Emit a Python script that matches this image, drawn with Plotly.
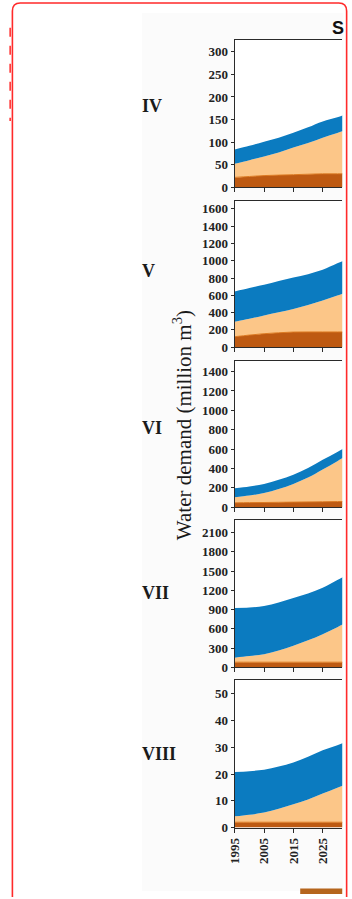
import plotly.graph_objects as go

W, H = 352, 899

# ---------------- data ----------------
years = [1995, 2000, 2005, 2010, 2015, 2020, 2025, 2030, 2035]
x_tick_vals = [1995, 2005, 2015, 2025]
x_tick_text = ["1995", "2005", "2015", "2025"]

region_labels = ["IV", "V", "VI", "VII", "VIII"]

# bottom (dark brown), middle (light orange), top (blue) layers, million m3
iv_brown = [22, 24, 26, 27, 28, 29, 30, 30, 30]
iv_peach = [30, 36, 42, 50, 60, 69, 80, 90, 102]
iv_blue = [32, 32, 33, 33, 33, 35, 36, 35, 36]

v_brown = [121, 140, 156, 167, 175, 176, 176, 176, 176]
v_peach = [172, 188, 210, 236, 268, 312, 364, 422, 484]
v_blue = [352, 357, 356, 362, 363, 357, 355, 372, 380]

vi_brown = [45, 47, 48, 50, 52, 54, 56, 58, 60]
vi_peach = [57, 73, 97, 138, 188, 251, 334, 417, 505]
vi_blue = [93, 93, 95, 95, 95, 100, 100, 95, 95]

vii_brown = [80, 80, 80, 80, 80, 80, 80, 80, 80]
vii_peach = [70, 95, 125, 180, 255, 340, 435, 545, 660]
vii_blue = [775, 755, 750, 750, 745, 730, 725, 735, 740]

viii_brown = [2.0, 2.0, 2.0, 2.0, 2.0, 2.0, 2.0, 2.0, 2.0]
viii_peach = [2.2, 2.8, 3.6, 5.0, 6.7, 8.5, 10.7, 12.9, 15.0]
viii_blue = [16.6, 16.3, 16.0, 15.8, 15.6, 16.0, 16.2, 15.9, 16.0]

iv_ticks = [0, 50, 100, 150, 200, 250, 300]
v_ticks = [0, 200, 400, 600, 800, 1000, 1200, 1400, 1600]
vi_ticks = [0, 200, 400, 600, 800, 1000, 1200, 1400]
vii_ticks = [0, 300, 600, 900, 1200, 1500, 1800, 2100]
viii_ticks = [0, 10, 20, 30, 40, 50]

y_title = "Water demand (million m<sup>3</sup>)"
top_text = "S"

# ---------------- styling ----------------
C_BROWN = "#BE5A12"
C_BROWN_EDGE = "#DC7A22"
C_PEACH = "#FCC688"
C_BLUE = "#0B7BC0"
AX = "#2a2a2a"
SERIF = "Liberation Serif"


def px(x):
    return x / W


def py(y):
    return 1 - y / H


# pixel geometry of each panel: (top, bottom, y-range max, label y)
geom = [
    (40.0, 189.0, 327, 107),
    (202.7, 350.3, 1692, 273),
    (364.0, 511.7, 1512, 432),
    (525.0, 673.3, 2290, 598),
    (686.0, 835.0, 55.2, 761),
]
series = [
    (iv_brown, iv_peach, iv_blue, iv_ticks),
    (v_brown, v_peach, v_blue, v_ticks),
    (vi_brown, vi_peach, vi_blue, vi_ticks),
    (vii_brown, vii_peach, vii_blue, vii_ticks),
    (viii_brown, viii_peach, viii_blue, viii_ticks),
]

X_LEFT, X_RIGHT = 232.0, 342.0
x_end = 1995 + (X_RIGHT - X_LEFT) / 3.0

fig = go.Figure()
layout = dict(
    width=W, height=H,
    margin=dict(l=0, r=0, t=0, b=0),
    paper_bgcolor="white",
    plot_bgcolor="white",
    showlegend=False,
)

shapes = []
annotations = []

# faint grey background of the figure image
shapes.append(dict(type="rect", xref="paper", yref="paper", layer="below",
                   x0=px(137), x1=px(343), y0=py(13), y1=py(899),
                   fillcolor="#fbfbfb", line=dict(width=0)))

n = len(geom)
for i, ((top, bot, ymax, ly), (b, p, bl, ticks)) in enumerate(zip(geom, series)):
    k = "" if i == 0 else str(i + 1)
    xa, ya = "x" + k, "y" + k
    # white plotting area
    shapes.append(dict(type="rect", xref="paper", yref="paper", layer="below",
                       x0=px(X_LEFT), x1=px(X_RIGHT), y0=py(bot), y1=py(top),
                       fillcolor="white", line=dict(width=0)))
    for vals, col, edge, lw in ((b, C_BROWN, C_BROWN_EDGE, 1.0),
                                (p, C_PEACH, C_PEACH, 0),
                                (bl, C_BLUE, C_BLUE, 0)):
        fig.add_trace(go.Scatter(
            x=years, y=vals, xaxis=xa, yaxis=ya,
            stackgroup="g" + k, mode="lines",
            line=dict(width=lw, shape="spline", smoothing=1.0, color=edge),
            fillcolor=col, hoverinfo="skip",
        ))
    last = i == n - 1
    layout["xaxis" + k] = dict(
        domain=[px(X_LEFT), px(X_RIGHT)], anchor=ya,
        range=[1995, x_end], showgrid=False, zeroline=False,
        showline=True, linecolor=AX, linewidth=1.3, mirror=True,
        ticks="outside", ticklen=4, tickwidth=1.2, tickcolor=AX,
        tickvals=x_tick_vals, ticktext=x_tick_text,
        showticklabels=last, tickangle=-90,
        tickfont=dict(family=SERIF, size=13, color="#222", weight="bold"),
    )
    layout["yaxis" + k] = dict(
        domain=[py(bot), py(top)], anchor=xa,
        range=[0, ymax], showgrid=False, zeroline=False,
        showline=True, linecolor=AX, linewidth=1.3, mirror=False,
        ticks="outside", ticklen=3, tickwidth=1.2, tickcolor=AX,
        tickvals=ticks, ticktext=[str(t) for t in ticks],
        tickfont=dict(family=SERIF, size=13, color="#222", weight="bold"),
    )
    annotations.append(dict(
        text=region_labels[i], xref="paper", yref="paper",
        x=px(135), y=py(ly), xanchor="left", yanchor="middle",
        showarrow=False,
        font=dict(family=SERIF, size=18, color="#1a1a1a", weight="bold"),
    ))

annotations.append(dict(
    text=y_title, xref="paper", yref="paper", x=px(178), y=py(429),
    xanchor="center", yanchor="middle", textangle=-90, showarrow=False,
    font=dict(family=SERIF, size=21, color="#1a1a1a"),
))
annotations.append(dict(
    text=top_text, xref="paper", yref="paper", x=px(329), y=py(28.5),
    xanchor="left", yanchor="middle", showarrow=False,
    font=dict(family="Liberation Sans", size=18, color="#111", weight="bold"),
))

# legend patch peeking in at the bottom
shapes.append(dict(type="rect", xref="paper", yref="paper",
                   x0=px(299), x1=px(342), y0=py(902), y1=py(896.5),
                   fillcolor="#B5651D", line=dict(width=0)))


# red rounded frame around the screenshot
def P(x, y):
    return f"{px(x):.5f},{py(y):.5f}"


r = 8
L, R, T = 4.5, 346.5, 3.0
frame = (f"M {P(L, 905)} L {P(L, T + r)} Q {P(L, T)} {P(L + r, T)} "
         f"L {P(R - r, T)} Q {P(R, T)} {P(R, T + r)} L {P(R, 905)}")
shapes.append(dict(type="path", xref="paper", yref="paper", path=frame,
                   line=dict(color="#FF2A2A", width=1.6)))
shapes.append(dict(type="line", xref="paper", yref="paper",
                   x0=px(2.2), x1=px(2.2), y0=py(28), y1=py(122),
                   line=dict(color="#FF2A2A", width=1.5, dash="dash")))

layout["shapes"] = shapes
layout["annotations"] = annotations
fig.update_layout(**layout)

fig.write_html("out.html")
